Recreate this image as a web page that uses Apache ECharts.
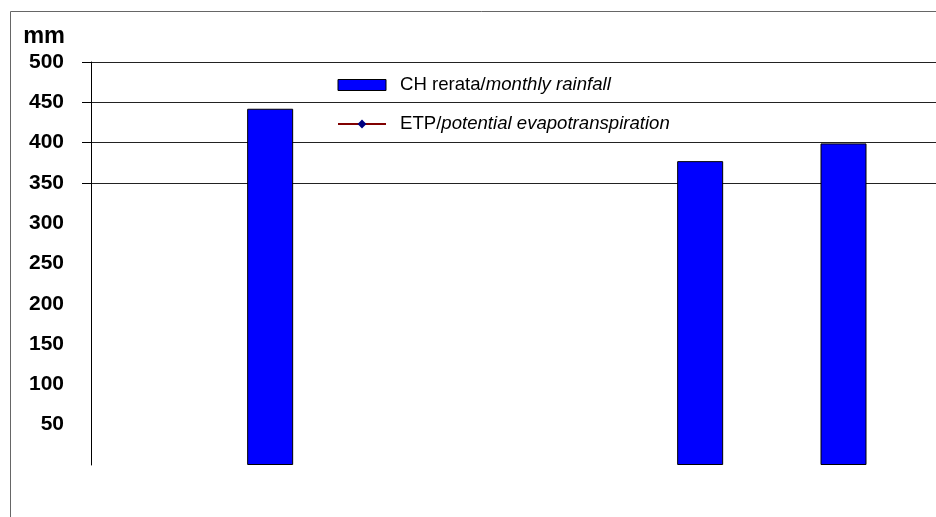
<!DOCTYPE html>
<html>
<head>
<meta charset="utf-8">
<script src="https://cdn.jsdelivr.net/npm/echarts@6/dist/echarts.min.js"></script>
<style>
  html, body { margin: 0; padding: 0; background: #fff; overflow: hidden; }
  /* the chart runs a little past the right edge of the window */
  #chart { width: 951px; height: 517px; }
</style>
</head>
<body>
<div id="chart"></div>
<script>
// Months of the year (category axis, labels not shown)
const months = ['Jan', 'Feb', 'Mar', 'Apr', 'Mei', 'Jun', 'Jul', 'Agu', 'Sep', 'Okt', 'Nov', 'Des'];
// Monthly rainfall (mm); empty months have no bar
const rainfall = [null, null, 442, null, null, null, null, null, 377, null, 399, null];
// Potential evapotranspiration (mm); no points plotted
const etp = [null, null, null, null, null, null, null, null, null, null, null, null];
// Y axis labels and tick positions
const yLabelValues = [50, 100, 150, 200, 250, 300, 350, 400, 450, 500];
const yTickValues = [350, 400, 450, 500];

const rainName = 'CH rerata/monthly rainfall';
const etpName = 'ETP/potential evapotranspiration';

const chart = echarts.init(document.getElementById('chart'), null, { renderer: 'canvas' });

chart.setOption({
  animation: false,
  backgroundColor: '#ffffff',
  graphic: [{
    type: 'rect',
    shape: { x: 10.5, y: 11.5, width: 1000, height: 600 },
    style: { fill: 'none', stroke: '#666666', lineWidth: 1 },
    silent: true
  }],
  grid: { left: 91, top: 62, bottom: 52, right: 0, containLabel: false },
  legend: {
    orient: 'vertical',
    left: 337,
    top: 75,
    padding: 0,
    itemWidth: 48,
    itemHeight: 11,
    itemGap: 19,
    data: [
      { name: rainName, icon: 'rect', itemStyle: { color: '#0000ff', borderColor: '#000000', borderWidth: 1 } },
      { name: etpName }
    ],
    formatter: function (name) {
      const i = name.indexOf('/');
      return '{a|' + name.slice(0, i + 1) + '}{b|' + name.slice(i + 1) + '}';
    },
    textStyle: {
      color: '#000',
      fontFamily: 'Liberation Sans, Arial, sans-serif',
      fontSize: 18.6,
      lineHeight: 20,
      rich: {
        a: { fontFamily: 'Liberation Sans, Arial, sans-serif', fontSize: 18.6, padding: [0, 0, 0, 9], color: '#000' },
        b: { fontFamily: 'Liberation Sans, Arial, sans-serif', fontSize: 18.6, fontStyle: 'italic', color: '#000' }
      }
    }
  },
  xAxis: {
    type: 'category',
    data: months,
    axisLine: { show: false },
    axisTick: { show: false },
    axisLabel: { show: false },
    splitLine: { show: false }
  },
  yAxis: {
    type: 'value',
    min: 0,
    max: 500,
    interval: 50,
    name: 'mm',
    nameLocation: 'end',
    nameGap: 13,
    nameTextStyle: {
      align: 'right',
      padding: [0, 26, 0, 0],
      color: '#000',
      fontFamily: 'Liberation Sans, Arial, sans-serif',
      fontWeight: 'bold',
      fontSize: 23.5
    },
    axisLine: { show: true, lineStyle: { color: '#000', width: 1 } },
    axisTick: { show: true, length: 9, customValues: yTickValues, lineStyle: { color: '#000' } },
    axisLabel: {
      customValues: yLabelValues,
      margin: 27,
      color: '#000',
      fontFamily: 'Liberation Sans, Arial, sans-serif',
      fontWeight: 'bold',
      fontSize: 21
    },
    splitLine: { show: true, lineStyle: { color: '#222', width: 1 } }
  },
  series: [
    {
      name: rainName,
      type: 'bar',
      data: rainfall,
      barWidth: 46,
      itemStyle: { color: '#0000ff', borderColor: '#000000', borderWidth: 1 }
    },
    {
      name: etpName,
      type: 'line',
      data: etp,
      symbol: 'diamond',
      symbolSize: 9,
      lineStyle: { color: '#800000', width: 1.5 },
      itemStyle: { color: '#000080' }
    }
  ]
});
</script>
</body>
</html>
